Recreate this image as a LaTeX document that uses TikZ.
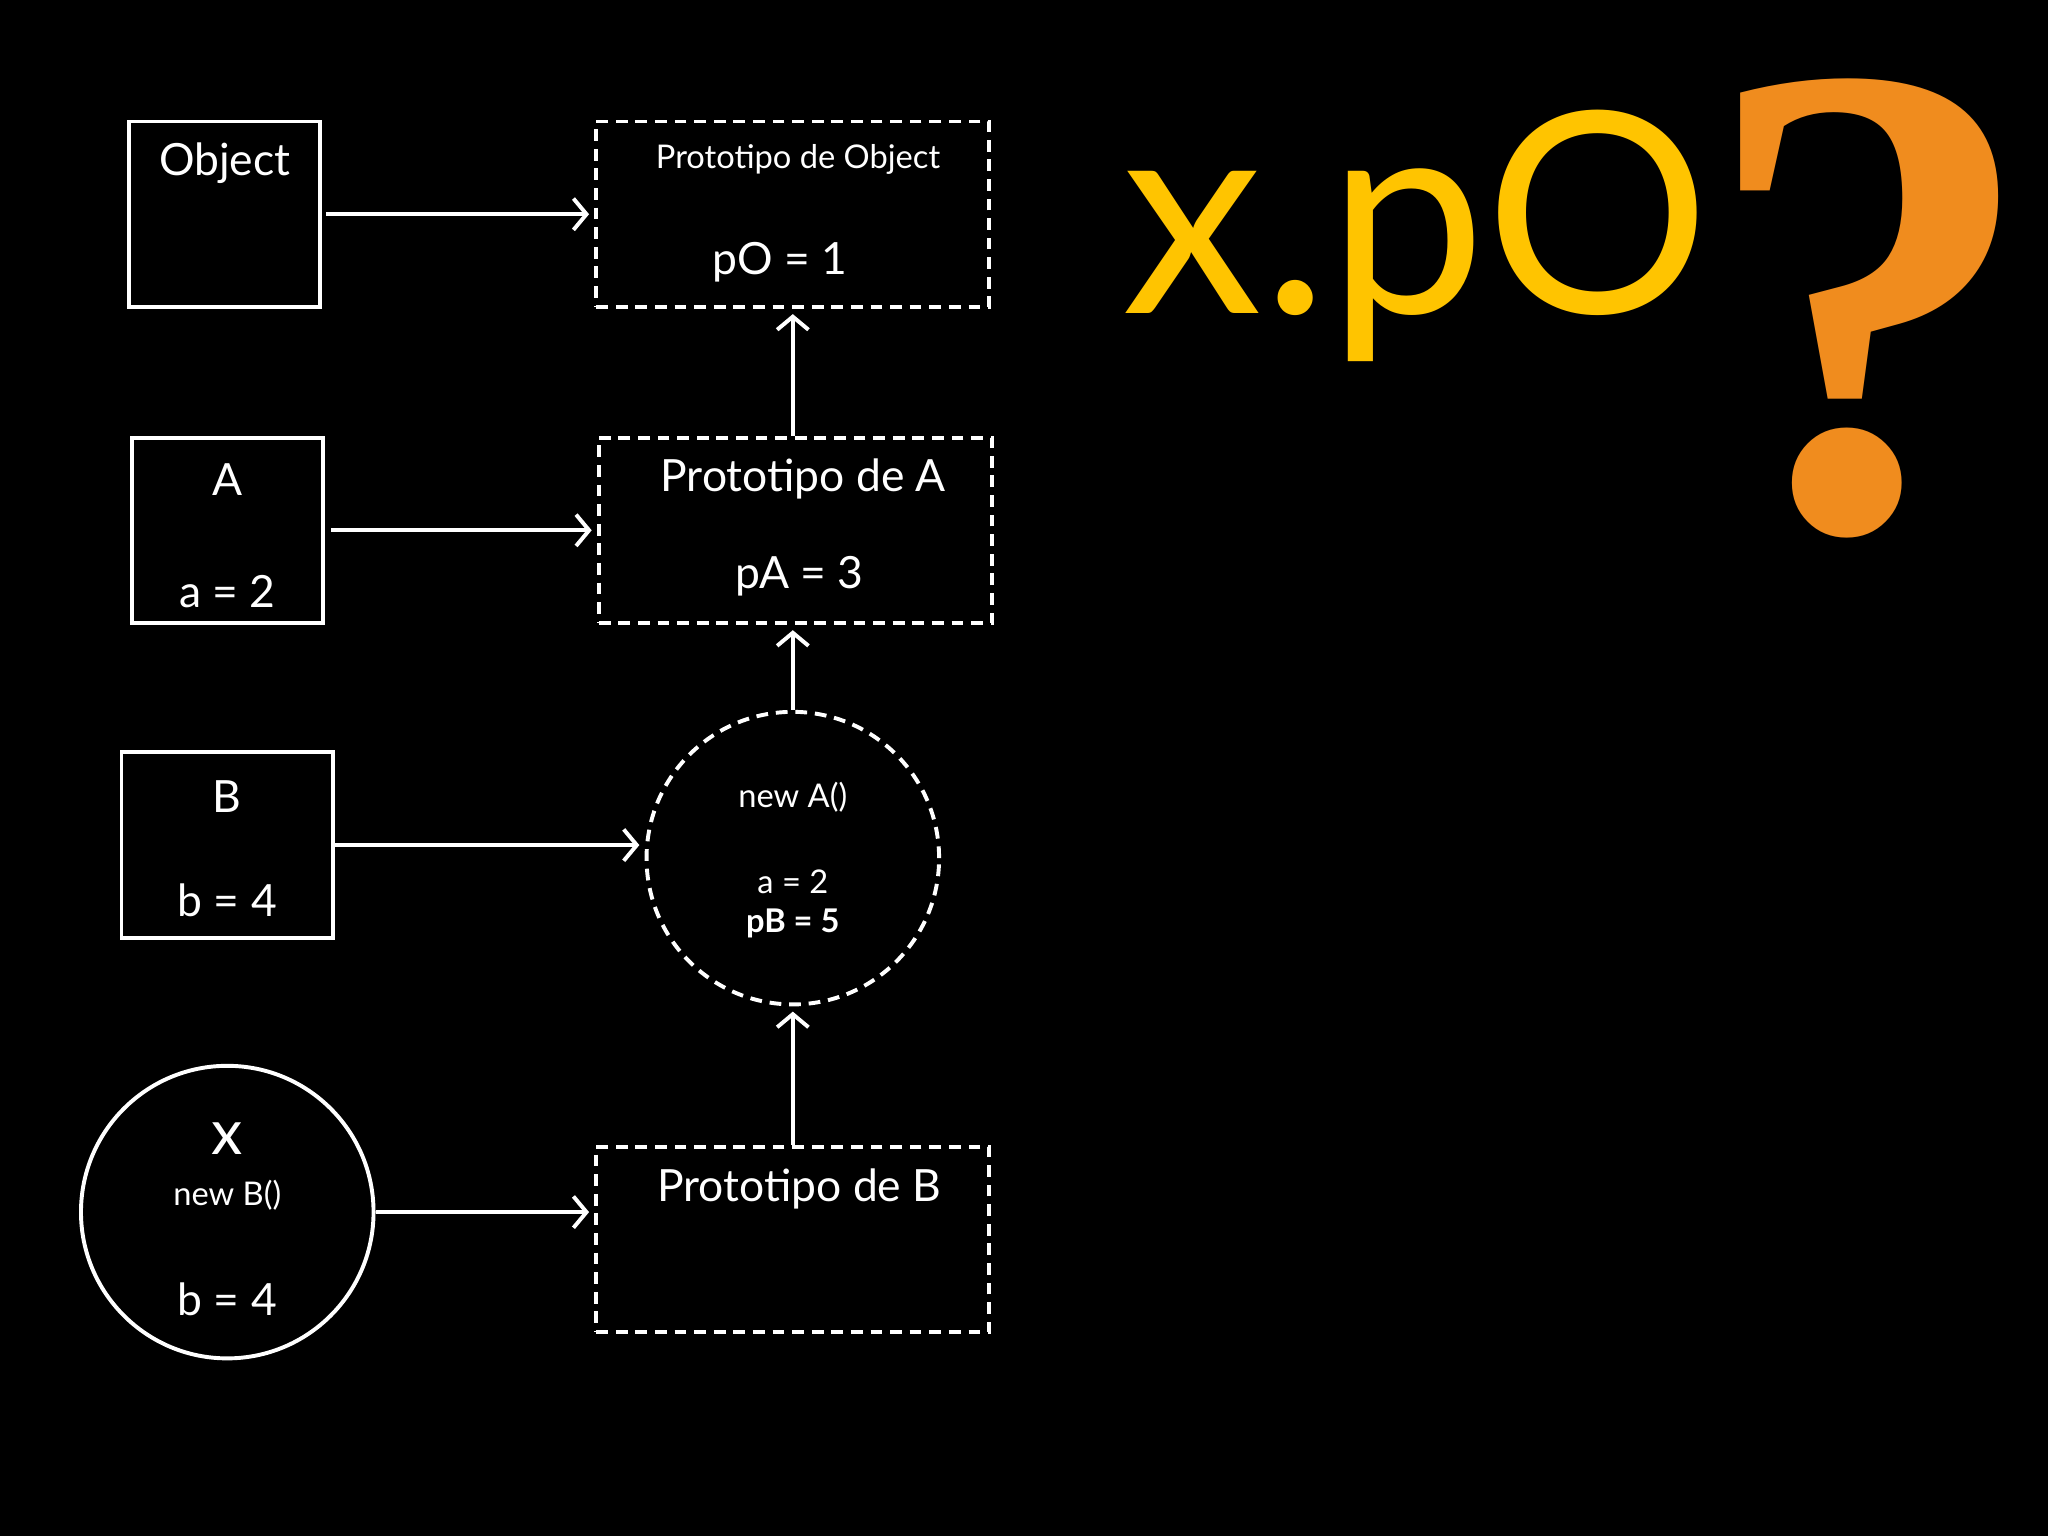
\documentclass[tikz,border=0pt]{standalone}
\usepackage{fontspec}
\setmainfont{Lato}
\newfontfamily\qfont{Liberation Serif}
\usetikzlibrary{positioning,calc,arrows.meta}
\tikzset{every picture/.style={line width=3pt}}
\tikzset{
  clsbox/.style={draw=white,minimum width=146pt,minimum height=142pt},
  protobox/.style={draw=white,dash pattern={on 9pt off 6pt},minimum width=301pt,minimum height=142pt},
  txt/.style={text=white,font=\fontsize{34}{40}\selectfont},
  smalltxt/.style={text=white,font=\fontsize{25}{30}\selectfont},
  link/.style={draw=white,-{Straight Barb[length=10pt,width=24pt]},shorten >=4pt}
}
\begin{document}
\begin{tikzpicture}[x=1pt,y=-1pt]
	\fill[black] (0,0) rectangle (1568,1176);
	
	% left column
	\node[clsbox] (obj) at (172,164) {};
	\node[clsbox] (clsA) at (174,406) {};
	\node[clsbox,minimum width=162pt] (clsB) at (174,647) {};
	\node[draw=white,circle,minimum size=224pt] (x) at (174,928) {};
	
	% right column
	\node[protobox] (pobj) at (607,164) {};
	\node[protobox] (pA) at (609,406) {};
	\node[draw=white,dash pattern={on 9pt off 6pt},circle,minimum size=224pt] (newA) at (607,657) {};
	\node[protobox] (pB) at (607,949) {};
	
	% texts
	\node[txt] at (172,125) {Object};
	\node[smalltxt] at (611,122) {Prototipo de Object};
	\node[txt] at (597,201) {pO = 1};
	\node[txt] at (174,367) {A};
	\node[txt] at (174,453) {a = 2};
	\node[txt] at (615,367) {Prototipo de A};
	\node[txt] at (612,441) {pA = 3};
	\node[txt] at (174,610) {B};
	\node[txt] at (174,689) {b = 4};
	\node[smalltxt] at (607,610) {new A()};
	\node[smalltxt] at (607,675) {a = 2};
	\node[smalltxt,font=\fontsize{25}{30}\selectfont\bfseries] at (607,707) {pB = 5};
	\node[txt,font=\fontsize{48}{50}\selectfont] at (174,872) {x};
	\node[smalltxt] at (174,915) {new B()};
	\node[txt] at (174,995) {b = 4};
	\node[txt] at (612,910) {Prototipo de B};
	
	% links
	\draw[link] (obj.east) ++(3,0) -- (pobj.west);
	\draw[link] (clsA.east) ++(5,0) -- (pA.west);
	\draw[link] (clsB.east) -- (clsB.east -| newA.west);
	\draw[link] (x.east) -- (x.east -| pB.west);
	\draw[link] (pA.north -| pobj.south) -- (pobj.south);
	\draw[link] (newA.north) -- (newA.north |- pA.south);
	\draw[link] (pB.north -| newA.south) -- (newA.south);
	
	% question
	\node[anchor=base west,inner sep=0pt,text={rgb,255:red,255;green,196;blue,0},font=\fontsize{215}{215}\selectfont] (q) at (858,240) {x.pO};
	\node[anchor=base west,inner sep=0pt,text={rgb,255:red,240;green,140;blue,30},font=\qfont\fontsize{520}{520}\selectfont\bfseries] (qm) at (1300,405) {?};
\end{tikzpicture}
\end{document}
